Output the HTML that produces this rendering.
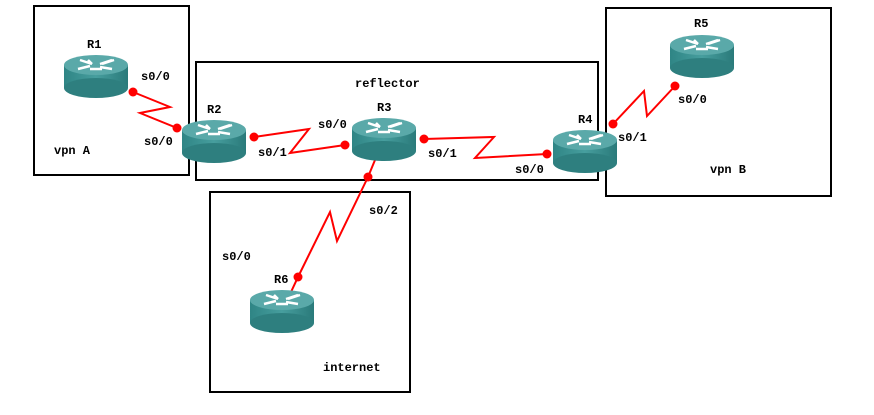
<!DOCTYPE html>
<html><head><style>body{margin:0;background:#fff}text{font-family:"Liberation Mono",monospace;font-weight:bold;font-size:12px;fill:#000}</style></head><body>
<svg width="874" height="410" xmlns="http://www.w3.org/2000/svg">
<defs>
<linearGradient id="g" x1="0" x2="1"><stop offset="0" stop-color="#2f8585"/><stop offset="0.5" stop-color="#479e9e"/><stop offset="1" stop-color="#2a7a7a"/></linearGradient>
<g id="r">
<rect x="-32" y="10" width="64" height="23" fill="url(#g)"/>
<ellipse cx="0" cy="33" rx="32" ry="10" fill="#2e7f7f"/>
<ellipse cx="0" cy="10" rx="32" ry="10" fill="#5aa9a9"/>
<path d="M-16 5 L-4 9 M-4 9 l-4 -4 M4 9 L16 5 M6 14 L-6 14 M16 14 L4 12" stroke="#fff" stroke-width="2.5" fill="none"/>
<path d="M-18 14 L-6 11 M18 5 L6 9" stroke="#fff" stroke-width="2.5" fill="none"/>
</g>
</defs>
<g fill="none" stroke="#000" stroke-width="2">
<rect x="34" y="6" width="155" height="169"/>
<rect x="196" y="62" width="402" height="118"/>
<rect x="606" y="8" width="225" height="188"/>
<rect x="210" y="192" width="200" height="200"/>
</g>
<g stroke="#f00" stroke-width="2" fill="none">
<polyline points="133,92 170,107 140,113 177,128"/>
<polyline points="254,137 309,129 290,153 345,145"/>
<polyline points="424,139 494,137 475,158 547,154"/>
<polyline points="613,124 644,91 647,116 675,86"/>
<polyline points="375,160 368,177 337,241 330,212 298,277 291,292"/>
</g>
<use href="#r" x="96" y="55"/>
<use href="#r" x="214" y="120"/>
<use href="#r" x="384" y="118"/>
<use href="#r" x="585" y="130"/>
<use href="#r" x="702" y="35"/>
<use href="#r" x="282" y="290"/>
<g fill="#f00">
<circle cx="133" cy="92" r="4.5"/><circle cx="177" cy="128" r="4.5"/>
<circle cx="254" cy="137" r="4.5"/><circle cx="345" cy="145" r="4.5"/>
<circle cx="424" cy="139" r="4.5"/><circle cx="547" cy="154" r="4.5"/>
<circle cx="613" cy="124" r="4.5"/><circle cx="675" cy="86" r="4.5"/>
<circle cx="368" cy="177" r="4.5"/><circle cx="298" cy="277" r="4.5"/>
</g>
<text x="87" y="48">R1</text><text x="207" y="113">R2</text><text x="377" y="111">R3</text>
<text x="578" y="123">R4</text><text x="694" y="27">R5</text><text x="274" y="283">R6</text>
<text x="141" y="80">s0/0</text><text x="144" y="145">s0/0</text>
<text x="258" y="156">s0/1</text><text x="318" y="128">s0/0</text>
<text x="428" y="157">s0/1</text><text x="515" y="173">s0/0</text>
<text x="618" y="141">s0/1</text><text x="678" y="103">s0/0</text>
<text x="369" y="214">s0/2</text><text x="222" y="260">s0/0</text>
<text x="54" y="154">vpn A</text><text x="355" y="87">reflector</text>
<text x="710" y="173">vpn B</text><text x="323" y="371">internet</text>
</svg>
</body></html>
